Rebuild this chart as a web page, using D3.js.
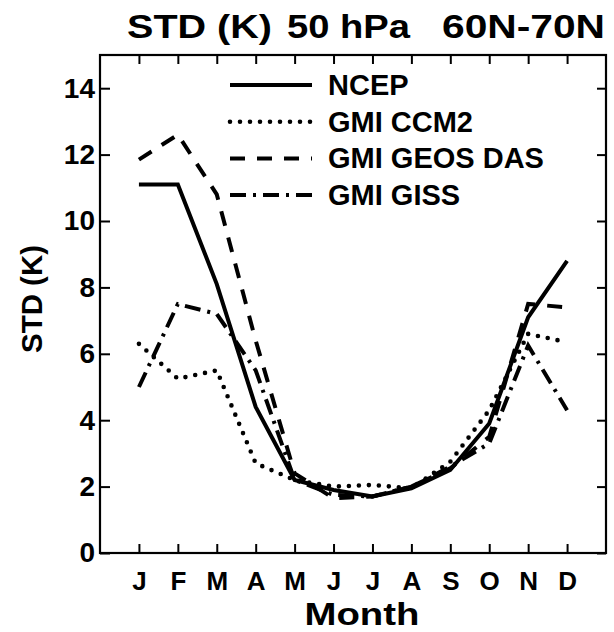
<!DOCTYPE html>
<html>
<head>
<meta charset="utf-8">
<script src="https://cdn.jsdelivr.net/npm/d3@7"></script>
<style>
  html, body { margin: 0; padding: 0; background: #fff; }
  svg { display: block; }
  text { font-family: "Liberation Sans", Arial, Helvetica, sans-serif; font-weight: bold; fill: #000; }
</style>
</head>
<body>
<svg id="chart" width="614" height="632"></svg>
<script>
// Monthly standard deviation of temperature (K) at 50 hPa, 60N-70N
const months = ["J", "F", "M", "A", "M", "J", "J", "A", "S", "O", "N", "D"];
const ncep    = [11.1, 11.1, 8.1, 4.4, 2.2, 1.9, 1.7, 1.95, 2.5, 3.9, 7.1, 8.8];
const gmiCcm2 = [6.3, 5.25, 5.5, 2.7, 2.2, 2.0, 2.05, 1.95, 2.75, 4.3, 6.6, 6.35];
const gmiGeos = [11.85, 12.6, 10.8, 6.4, 2.4, 1.65, 1.7, 2.0, 2.55, 3.5, 7.5, 7.4];
const gmiGiss = [5.0, 7.5, 7.2, 5.5, 2.2, 1.75, 1.7, 2.0, 2.6, 3.3, 6.25, 4.3];
const seriesNames = ["NCEP", "GMI CCM2", "GMI GEOS DAS", "GMI GISS"];
const yTicks = [0, 2, 4, 6, 8, 10, 12, 14];
const titleParts = ["STD (K)", "50 hPa", "60N-70N"];
const yTitle = "STD (K)";
const xTitle = "Month";

const svg = d3.select("#chart");
const plotLeft = 100, plotRight = 606, plotTop = 55, plotBottom = 553;

const x = d3.scaleLinear().domain([0, 13]).range([plotLeft, plotRight]);
const y = d3.scaleLinear().domain([0, 15]).range([plotBottom, plotTop]);
const monthIdx = d3.range(1, 13);

// line styles per series
const styles = [
  { dash: null,          cap: "butt",  width: 4 },
  { dash: "0,10",        cap: "round", width: 4.6 },
  { dash: "15,12",       cap: "butt",  width: 4 },
  { dash: "16,7,3,7",    cap: "butt",  width: 4 }
];
const series = [ncep, gmiCcm2, gmiGeos, gmiGiss];

// axes with inward ticks on all four sides
const fontSize = (g, s) => g.selectAll("text").attr("font-size", s).attr("font-family", null);

const gLeft = svg.append("g").attr("transform", `translate(${plotLeft},0)`)
  .call(d3.axisLeft(y).tickValues(yTicks).tickSize(-10).tickPadding(5));
fontSize(gLeft, 28);

const gRight = svg.append("g").attr("transform", `translate(${plotRight},0)`)
  .call(d3.axisRight(y).tickValues(yTicks).tickSize(-9).tickFormat(""));

const gBottom = svg.append("g").attr("transform", `translate(0,${plotBottom})`)
  .call(d3.axisBottom(x).tickValues(monthIdx).tickFormat(i => months[i - 1]).tickSize(-9).tickPadding(19));
fontSize(gBottom, 26);

const gTop = svg.append("g").attr("transform", `translate(0,${plotTop})`)
  .call(d3.axisTop(x).tickValues(monthIdx).tickSize(-9).tickFormat(""));

[gLeft, gRight, gBottom, gTop].forEach(g => {
  g.attr("font-family", null);
  g.select(".domain").remove();
  g.selectAll(".tick line").attr("stroke", "#000").attr("stroke-width", 2);
});

// plot frame
svg.append("rect")
  .attr("x", plotLeft).attr("y", plotTop)
  .attr("width", plotRight - plotLeft).attr("height", plotBottom - plotTop)
  .attr("fill", "none").attr("stroke", "#000").attr("stroke-width", 2.2);

// series lines
const line = d3.line().x((d, i) => x(i + 1)).y(d => y(d));
series.forEach((vals, k) => {
  svg.append("path")
    .datum(vals)
    .attr("d", line)
    .attr("fill", "none")
    .attr("stroke", "#000")
    .attr("stroke-width", styles[k].width)
    .attr("stroke-linecap", styles[k].cap)
    .attr("stroke-linejoin", "miter")
    .attr("stroke-dasharray", styles[k].dash);
});

// legend
const legend = svg.append("g");
seriesNames.forEach((name, k) => {
  const ly = 85 + k * 36.7;
  legend.append("line")
    .attr("x1", 230).attr("x2", 312).attr("y1", ly).attr("y2", ly)
    .attr("stroke", "#000")
    .attr("stroke-width", styles[k].width)
    .attr("stroke-linecap", styles[k].cap)
    .attr("stroke-dasharray", styles[k].dash);
  legend.append("text")
    .attr("x", 328).attr("y", ly + 10)
    .attr("font-size", 29)
    .text(name);
});

// title
const titlePos = [[127, 145], [287, 123], [442, 163]];
titleParts.forEach((t, i) => {
  svg.append("text")
    .attr("x", titlePos[i][0]).attr("y", 38)
    .attr("font-size", 33)
    .attr("textLength", titlePos[i][1])
    .attr("lengthAdjust", "spacingAndGlyphs")
    .text(t);
});

// axis titles
svg.append("text")
  .attr("transform", "translate(42,299) rotate(-90)")
  .attr("text-anchor", "middle")
  .attr("font-size", 30)
  .attr("textLength", 108)
  .attr("lengthAdjust", "spacingAndGlyphs")
  .text(yTitle);

svg.append("text")
  .attr("x", 362).attr("y", 625)
  .attr("text-anchor", "middle")
  .attr("font-size", 32)
  .attr("textLength", 115)
  .attr("lengthAdjust", "spacingAndGlyphs")
  .text(xTitle);
</script>
</body>
</html>
